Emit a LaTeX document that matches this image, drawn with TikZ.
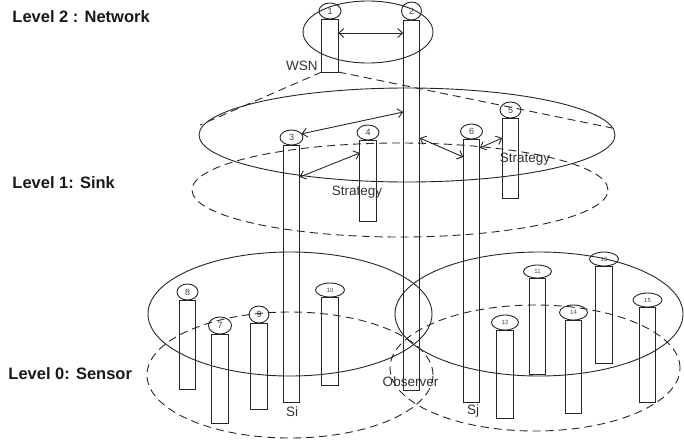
\documentclass[tikz,border=0pt]{standalone}
\usepackage{fontspec}
\setmainfont{Liberation Sans}
\usetikzlibrary{shapes.geometric,arrows.meta,calc}
\begin{document}
\begin{tikzpicture}[x=1pt,y=-1pt,
  line width=0.9pt,
  bar/.style={draw=black!85, rectangle, inner sep=0pt, outer sep=0pt, minimum width=16.5pt, anchor=north},
  num/.style={draw=black!85, ellipse, inner sep=0pt, outer sep=0pt, font=\fontsize{9}{9}\selectfont, text=black!75},
  tiny/.style={font=\fontsize{6}{6}\selectfont},
  lvl/.style={font=\bfseries\fontsize{16.5}{16.5}\selectfont, anchor=west, inner sep=0pt, text=black!90},
  lab/.style={font=\fontsize{13.5}{13.5}\selectfont, text=black!80, inner sep=0pt},
  ring/.style={draw=black!85},
  dring/.style={draw=black!85, dash pattern=on 8pt off 5pt},
  dar/.style={draw=black!85, {Straight Barb[length=5pt,width=9pt]}-{Straight Barb[length=5pt,width=9pt]}},
]
\useasboundingbox (0,0) rectangle (684,444);

% level labels
\node[lvl] (l2) at (12,17) {Level 2 : Network};
\node[lvl] (l1) at (12,183) {Level 1: Sink};
\node[lvl] (l0) at (8,374) {Level 0: Sensor};

% ellipses
\draw[ring] (368,32) ellipse [x radius=65pt, y radius=31pt];
\draw[ring] (407,135) ellipse [x radius=208pt, y radius=47pt];
\draw[dring] (400,190) ellipse [x radius=208pt, y radius=47pt];
\draw[ring] (290,314) ellipse [x radius=142pt, y radius=62pt];
\draw[dring] (290,375) ellipse [x radius=143pt, y radius=63pt];
\draw[ring] (539,314) ellipse [x radius=144pt, y radius=62pt];
\draw[dring] (535,368) ellipse [x radius=145pt, y radius=63pt];

% level 2 nodes
\node[num, minimum width=22pt, minimum height=16pt] (n1) at (330,11) {1};
\node[bar, minimum height=53pt] (b1) at (n1.south) {};
\node[num, minimum width=20pt, minimum height=18pt] (n2) at (411.5,11) {2};
\node[bar, minimum height=370pt] (b2) at (n2.south) {};

% level 1 nodes
\node[num, minimum width=23pt, minimum height=15pt] (n3) at (291.5,137.5) {3};
\node[bar, minimum height=257pt] (b3) at (n3.south) {};
\node[num, minimum width=22pt, minimum height=15pt] (n4) at (368,132.5) {4};
\node[bar, minimum height=81pt] (b4) at (n4.south) {};
\node[num, minimum width=21pt, minimum height=16pt] (n5) at (510.5,110) {5};
\node[bar, minimum height=80pt] (b5) at (n5.south) {};
\node[num, minimum width=22pt, minimum height=15pt] (n6) at (471.5,131.5) {6};
\node[bar, minimum height=263pt] (b6) at (n6.south) {};

% level 0 nodes
\node[num, minimum width=23pt, minimum height=17pt] (n7) at (220,325.5) {7};
\node[bar, minimum height=89pt] (b7) at (n7.south) {};
\node[num, minimum width=21pt, minimum height=16pt] (n8) at (187.5,292) {8};
\node[bar, minimum height=89pt] (b8) at (n8.south) {};
\node[num, minimum width=20pt, minimum height=17pt] (n9) at (259,314.5) {9};
\node[bar, minimum height=86pt] (b9) at (n9.south) {};
\node[num, tiny, minimum width=29pt, minimum height=14pt] (n10) at (330,290) {10};
\node[bar, minimum height=88pt] (b10) at (n10.south) {};
\node[num, tiny, minimum width=28pt, minimum height=13pt] (n11) at (537.5,271.5) {11};
\node[bar, minimum height=96pt] (b11) at (n11.south) {};
\node[num, tiny, minimum width=27pt, minimum height=15pt] (n12) at (505,322.5) {12};
\node[bar, minimum height=88pt] (b12) at (n12.south) {};
\node[num, tiny, minimum width=29pt, minimum height=14pt] (n13) at (604,259) {13};
\node[bar, minimum height=97pt] (b13) at (n13.south) {};
\node[num, tiny, minimum width=28pt, minimum height=15pt] (n14) at (573.5,312.5) {14};
\node[bar, minimum height=93pt] (b14) at (n14.south) {};
\node[num, tiny, minimum width=29pt, minimum height=14pt] (n15) at (647.5,300) {15};
\node[bar, minimum height=95pt] (b15) at (n15.south) {};

% cone from WSN
\coordinate (coneL) at (200,125);
\coordinate (coneR) at (612,128);
\draw[dring] (b1.south west) -- (coneL);
\draw[dring] (b1.south east) -- (coneR);

% arrows
\draw[dar] ([yshift=-14pt]b1.north east) -- ([yshift=-13pt]b2.north west);
\draw[dar] (n3.20) -- ([yshift=-92pt]b2.north west);
\draw[dar] ([yshift=-32pt]b3.north east) -- ([yshift=-13pt]b4.north west);
\draw[dar] ([yshift=-118pt]b2.north east) -- ([yshift=-18pt]b6.north west);
\draw[dar] ([yshift=-9pt]b6.north east) -- ([yshift=-20pt]b5.north west);

% labels
\node[lab, anchor=east] (wsn) at (318,66) {WSN};
\node[lab] (st1) at (357,192) {Strategy};
\node[lab] (st2) at (525,159) {Strategy};
\node[lab] (si) at (292,412) {Si};
\node[lab] (sj) at (473,411) {Sj};
\node[lab] (obs) at (410.5,382) {Observer};
\end{tikzpicture}
\end{document}
